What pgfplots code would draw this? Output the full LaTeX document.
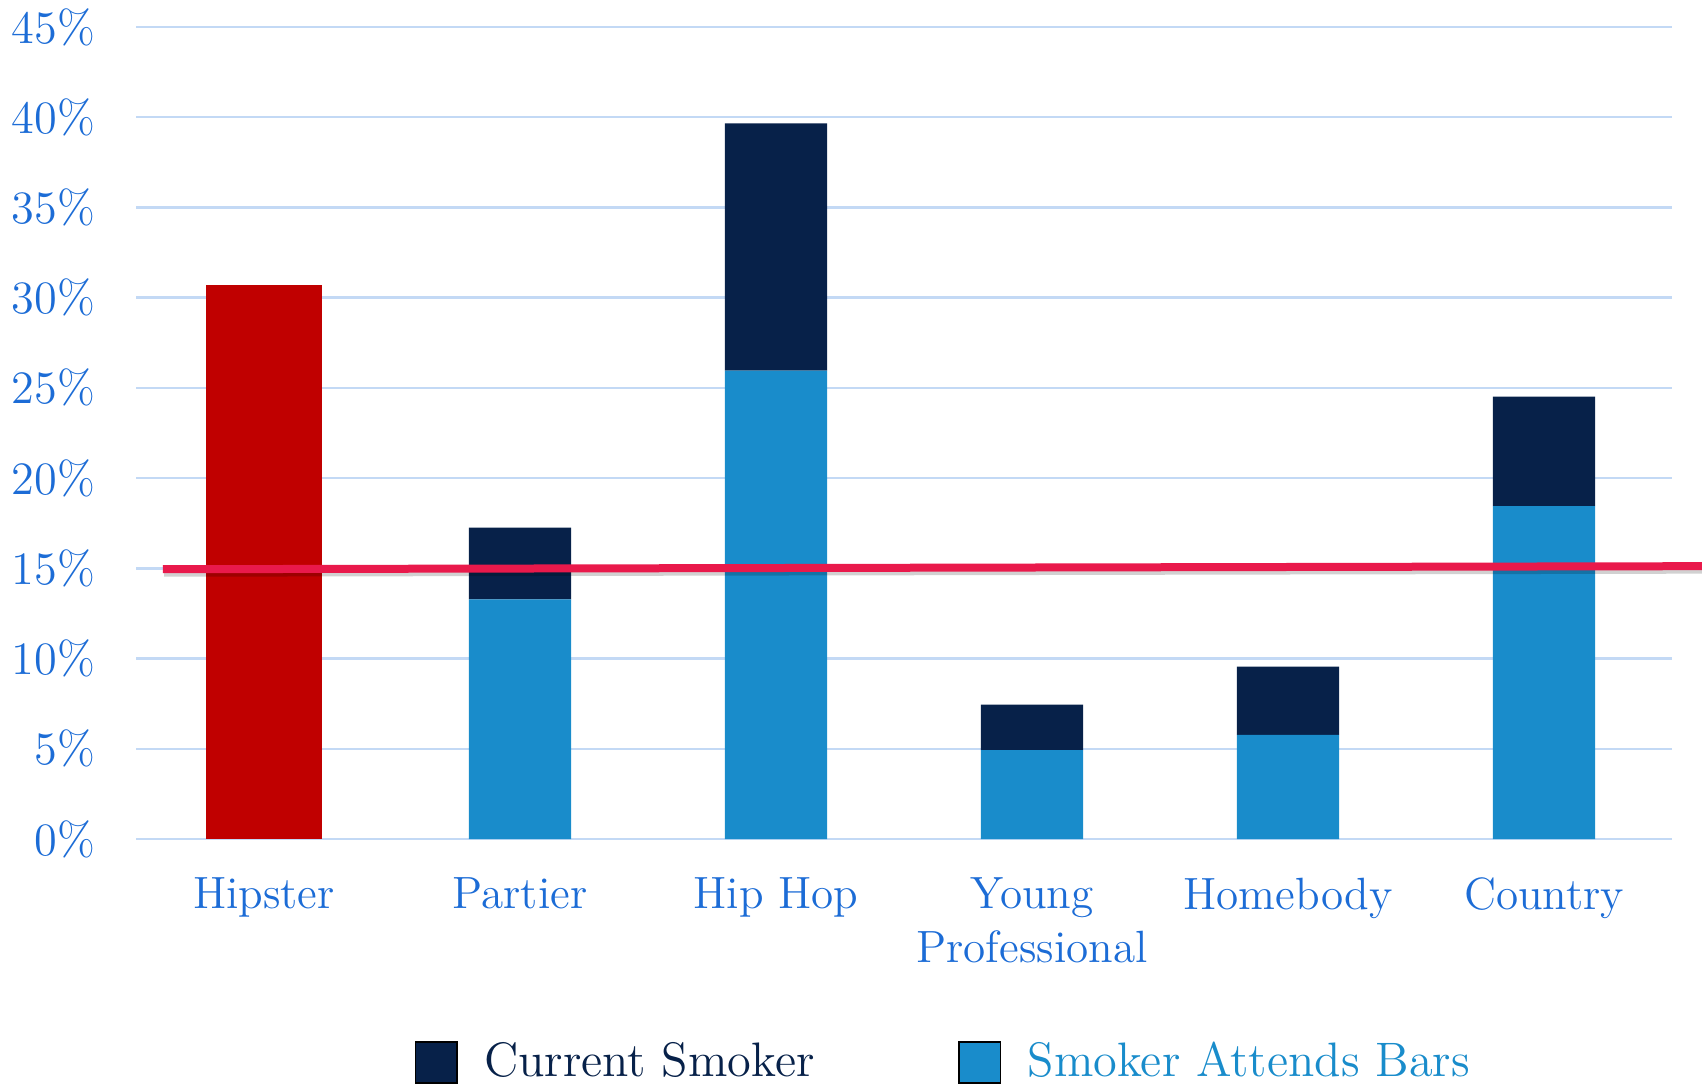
\documentclass[border=0pt]{standalone}
\usepackage{pgfplots}
\pgfplotsset{compat=1.18}
\definecolor{navy}{RGB}{7,33,73}
\definecolor{barblue}{RGB}{25,140,203}
\definecolor{hipred}{RGB}{192,0,0}
\definecolor{linered}{RGB}{233,25,75}
\definecolor{tickblue}{RGB}{28,108,214}
\definecolor{gridblue}{RGB}{195,217,245}
\begin{document}
\begin{tikzpicture}
\useasboundingbox (-34pt,-61.25pt) rectangle (391.5pt,209.75pt);
\begin{axis}[
  scale only axis, width=384pt, height=203pt,
  at={(0,0)}, anchor=south west,
  xmin=-0.5, xmax=5.5, ymin=0, ymax=45,
  ybar stacked, bar width=0.4,
  clip=false,
  axis line style={draw=none},
  major tick length=0pt,
  ymajorgrids, major grid style={gridblue, line width=0.6pt},
  ytick={0,5,10,15,20,25,30,35,40,45},
  yticklabels={0\%,5\%,10\%,15\%,20\%,25\%,30\%,35\%,40\%,45\%},
  xtick={0,1,2,3,4,5},
  xticklabels={Hipster,Partier,Hip Hop,{Young\\Professional},Homebody,Country},
  xticklabel style={anchor=north, inner sep=0pt, yshift=-9.5pt, align=center,
     font=\fontsize{11.3}{13.5}\selectfont, text=tickblue},
  yticklabel style={anchor=east, inner sep=0pt, xshift=-10pt,
     font=\fontsize{11.6}{13.5}\selectfont, text=tickblue},
  legend style={draw=none, fill=none, legend columns=2, at={(0.181,-0.275)}, anchor=west,
     inner sep=0pt, font=\fontsize{12.1}{14}\selectfont,
     /tikz/every even column/.append style={column sep=34pt}},
  legend image code/.code={\fill[#1] (0pt,-5.1pt) rectangle (10.3pt,5.1pt); \path (14.9pt,0pt);},
]
\addplot[fill=hipred, draw=none, forget plot, bar width=0.45] coordinates {(0,30.7) (1,0) (2,0) (3,0) (4,0) (5,0)};
\addplot[fill=barblue, draw=none, forget plot] coordinates {(0,0) (1,13.28) (2,25.96) (3,4.93) (4,5.77) (5,18.45)};
\addplot[fill=navy, draw=none, forget plot] coordinates {(0,0) (1,3.97) (2,13.70) (3,2.52) (4,3.79) (5,6.07)};
\addlegendimage{fill=navy}
\addlegendentry{\textcolor{navy}{Current Smoker}}
\addlegendimage{fill=barblue}
\addlegendentry{\textcolor{barblue}{Smoker Attends Bars}}
\end{axis}
\begin{axis}[
  scale only axis, width=384pt, height=203pt,
  at={(0,0)}, anchor=south west,
  xmin=-0.5, xmax=5.5, ymin=0, ymax=45,
  clip=false, hide axis,
]
\addplot[draw=black, opacity=0.18, line width=2.4pt, forget plot] coordinates {(-0.39,14.80) (5.617,14.97)};
\addplot[draw=linered, line width=2pt, forget plot] coordinates {(-0.395,14.95) (5.617,15.12)};
\end{axis}
\end{tikzpicture}
\end{document}
